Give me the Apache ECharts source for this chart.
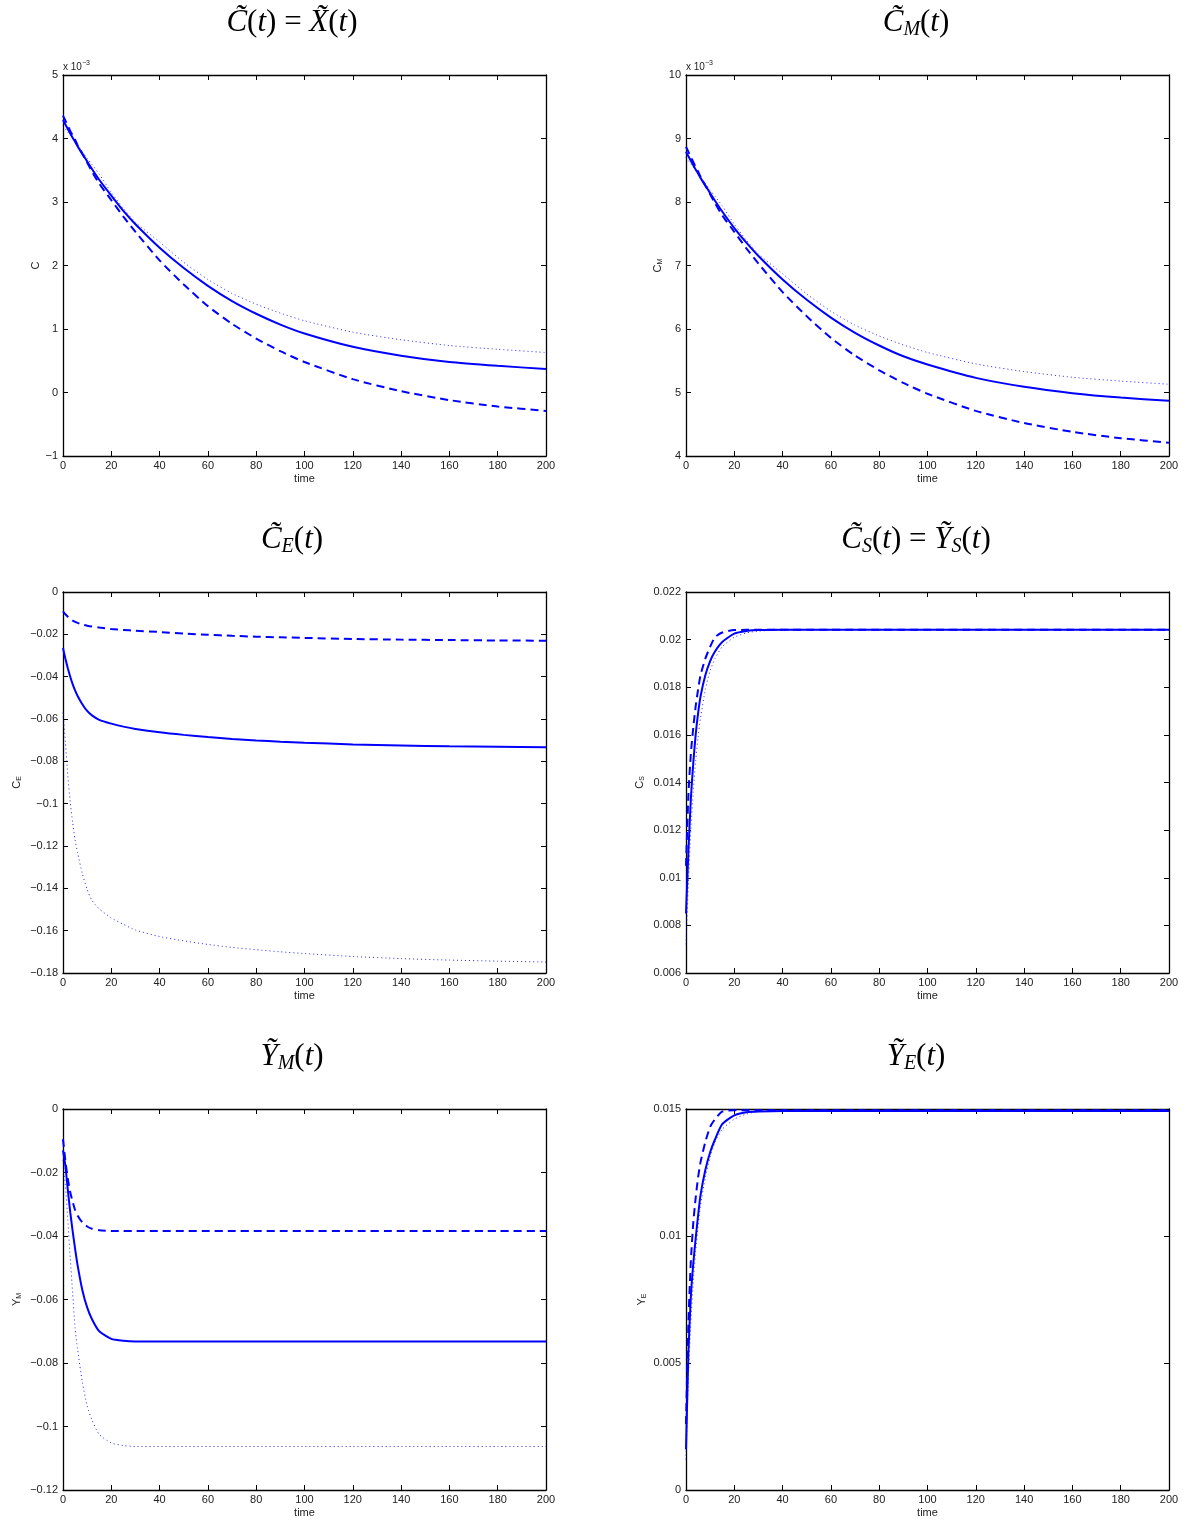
<!DOCTYPE html>
<html><head><meta charset="utf-8">
<script src="https://cdn.jsdelivr.net/npm/echarts@6/dist/echarts.min.js"></script>
<style>html,body{margin:0;padding:0;background:#fff}#c{width:1192px;height:1522px}</style>
</head><body><div id="c"></div>
<script>
// time samples
const T = [0,1,2,3,4,5,6,8,10,12,15,20,25,30,40,50,60,70,80,90,100,120,140,160,180,200];
const xTicks = [0,20,40,60,80,100,120,140,160,180,200];

// Panel 1: C (x 10^-3)
const c_solid = [4.29,4.22,4.15,4.08,4.01,3.95,3.88,3.76,3.64,3.52,3.35,3.10,2.86,2.65,2.28,1.96,1.68,1.44,1.24,1.07,0.93,0.72,0.58,0.48,0.42,0.37];
const c_dash  = [4.36,4.28,4.20,4.12,4.05,3.98,3.90,3.76,3.62,3.48,3.29,3.03,2.77,2.53,2.08,1.70,1.36,1.08,0.85,0.65,0.48,0.21,0.02,-0.12,-0.22,-0.29];
const c_dot   = [4.20,4.15,4.10,4.05,4.00,3.95,3.89,3.79,3.69,3.59,3.44,3.15,2.90,2.68,2.37,2.05,1.78,1.56,1.39,1.25,1.13,0.95,0.83,0.74,0.68,0.63];

// Panel 2: C_M (x 10^-3)
const cm_solid = [8.79,8.72,8.65,8.58,8.51,8.45,8.38,8.26,8.14,8.02,7.85,7.59,7.36,7.15,6.78,6.46,6.18,5.94,5.74,5.57,5.44,5.23,5.09,4.99,4.92,4.87];
const cm_dash  = [8.87,8.79,8.71,8.63,8.55,8.48,8.40,8.26,8.12,7.98,7.79,7.53,7.27,7.03,6.58,6.20,5.86,5.58,5.35,5.15,4.98,4.71,4.52,4.38,4.28,4.21];
const cm_dot   = [8.70,8.65,8.60,8.55,8.50,8.45,8.39,8.29,8.19,8.09,7.94,7.65,7.40,7.18,6.87,6.55,6.28,6.06,5.89,5.75,5.63,5.45,5.33,5.24,5.18,5.13];

// Panel 3: C_E
const ce_solid = [-0.0265,-0.0315,-0.036,-0.040,-0.0435,-0.0465,-0.049,-0.053,-0.0562,-0.0583,-0.0604,-0.0622,-0.0636,-0.0647,-0.0663,-0.0675,-0.0685,-0.0694,-0.0701,-0.0707,-0.0712,-0.0720,-0.0725,-0.0729,-0.0731,-0.0733];
const ce_dash  = [-0.0091,-0.0105,-0.0117,-0.0127,-0.0135,-0.0141,-0.0146,-0.0154,-0.0159,-0.0163,-0.0168,-0.0175,-0.0179,-0.0183,-0.0189,-0.0196,-0.0202,-0.0207,-0.0211,-0.0214,-0.0217,-0.0222,-0.0225,-0.0227,-0.0229,-0.0230];
const ce_dot   = [-0.057,-0.071,-0.087,-0.099,-0.109,-0.117,-0.123,-0.133,-0.1405,-0.1457,-0.1497,-0.154,-0.157,-0.1597,-0.1628,-0.1648,-0.1665,-0.1679,-0.169,-0.170,-0.1708,-0.1722,-0.1732,-0.1739,-0.1744,-0.1748];

// Panel 4: C_S
const cs_solid = [0.0085,0.0111,0.0133,0.0148,0.0160,0.0169,0.0176,0.0185,0.0191,0.0195,0.0199,0.02025,0.02036,0.0204,0.02041,0.02041,0.02041,0.02041,0.02041,0.02041,0.02041,0.02041,0.02041,0.02041,0.02041,0.02041];
const cs_dash  = [0.0105,0.0135,0.0152,0.0163,0.0172,0.0179,0.0185,0.0192,0.0197,0.0201,0.0203,0.0204,0.02041,0.02041,0.02041,0.02041,0.02041,0.02041,0.02041,0.02041,0.02041,0.02041,0.02041,0.02041,0.02041,0.02041];
const cs_dot   = [0.0072,0.0098,0.0120,0.0136,0.0149,0.0159,0.0167,0.0179,0.0187,0.0192,0.0197,0.0201,0.02028,0.02036,0.0204,0.02041,0.02041,0.02041,0.02041,0.02041,0.02041,0.02041,0.02041,0.02041,0.02041,0.02041];

// Panel 5: Y_M
const ym_solid = [-0.013,-0.018,-0.0255,-0.0325,-0.0385,-0.0440,-0.0490,-0.0570,-0.0625,-0.0662,-0.0700,-0.0724,-0.0730,-0.0732,-0.0732,-0.0732,-0.0732,-0.0732,-0.0732,-0.0732,-0.0732,-0.0732,-0.0732,-0.0732,-0.0732,-0.0732];
const ym_dash  = [-0.0095,-0.0165,-0.022,-0.0262,-0.0292,-0.0318,-0.0335,-0.0357,-0.0370,-0.0377,-0.0382,-0.0384,-0.0384,-0.0384,-0.0384,-0.0384,-0.0384,-0.0384,-0.0384,-0.0384,-0.0384,-0.0384,-0.0384,-0.0384,-0.0384,-0.0384];
const ym_dot   = [-0.016,-0.024,-0.035,-0.047,-0.058,-0.069,-0.0755,-0.086,-0.0935,-0.098,-0.1025,-0.1052,-0.106,-0.1063,-0.1063,-0.1063,-0.1063,-0.1063,-0.1063,-0.1063,-0.1063,-0.1063,-0.1063,-0.1063,-0.1063,-0.1063];

// Panel 6: Y_E
const ye_solid = [0.0016,0.0054,0.0076,0.0089,0.0099,0.0108,0.0116,0.0126,0.0133,0.0138,0.0144,0.01475,0.01487,0.0149,0.01492,0.01492,0.01492,0.01492,0.01492,0.01492,0.01492,0.01492,0.01492,0.01492,0.01492,0.01492];
const ye_dash  = [0.0026,0.0066,0.0090,0.0105,0.0115,0.0123,0.0129,0.0137,0.0143,0.0146,0.0149,0.01495,0.01495,0.01495,0.01495,0.01495,0.01495,0.01495,0.01495,0.01495,0.01495,0.01495,0.01495,0.01495,0.01495,0.01495];
const ye_dot   = [0.0012,0.0045,0.0066,0.0082,0.0094,0.0104,0.0112,0.0123,0.0131,0.0137,0.0142,0.0146,0.0148,0.0149,0.01492,0.01492,0.01492,0.01492,0.01492,0.01492,0.01492,0.01492,0.01492,0.01492,0.01492,0.01492];

const titles = [
  '{i|C\u0303}{u|(}{i|t}{u|) = }{i|X\u0303}{u|(}{i|t}{u|)}',
  '{i|C\u0303}{s|M}{u|(}{i|t}{u|)}',
  '{i|C\u0303}{s|E}{u|(}{i|t}{u|)}',
  '{i|C\u0303}{s|S}{u|(}{i|t}{u|) = }{i|Y\u0303}{s|S}{u|(}{i|t}{u|)}',
  '{i|Y\u0303}{s|M}{u|(}{i|t}{u|)}',
  '{i|Y\u0303}{s|E}{u|(}{i|t}{u|)}'
];
const yNames = ['{a|C}','{a|C}{s|M}','{a|C}{s|E}','{a|C}{s|S}','{a|Y}{s|M}','{a|Y}{s|E}'];
const yRanges = [[-1,5,1],[4,10,1],[-0.18,0,0.02],[0.006,0.022,0.002],[-0.12,0,0.02],[0,0.015,0.005]];
const seriesSets = [
  [c_solid,c_dash,c_dot],[cm_solid,cm_dash,cm_dot],[ce_solid,ce_dash,ce_dot],
  [cs_solid,cs_dash,cs_dot],[ym_solid,ym_dash,ym_dot],[ye_solid,ye_dash,ye_dot]
];

// layout
const lefts = [63,686,63,686,63,686];
const tops = [75,75,592,592,1109,1109];
const W = 483, H = 381;
const nameGaps = [22,22,40,40,40,38];
const titleX = [292,916,292,916,292,916];

const font = 'Liberation Sans, Arial, Helvetica, sans-serif';
const serif = 'Liberation Serif, DejaVu Serif, serif';
const fmt = v => String(+(+v).toFixed(6)).replace('-', '\u2212');

const grid = [], xAxis = [], yAxis = [], series = [], graphic = [];
for (let p = 0; p < 6; p++) {
  grid.push({left: lefts[p], top: tops[p], width: W, height: H});
  const axLine = {show: true, onZero: false, lineStyle: {color: '#000', width: 1.3}};
  const tick = {show: true, inside: true, length: 5, lineStyle: {color: '#000', width: 1}};
  xAxis.push({
    type: 'value', gridIndex: p, min: 0, max: 200, interval: 20, position: 'bottom',
    axisLine: axLine, axisTick: tick, splitLine: {show: false},
    axisLabel: {fontFamily: font, fontSize: 11, color: '#222', margin: 4, formatter: fmt},
    name: 'time', nameLocation: 'middle', nameGap: 17,
    nameTextStyle: {fontFamily: font, fontSize: 11, color: '#222'}
  });
  xAxis.push({
    type: 'value', gridIndex: p, min: 0, max: 200, interval: 20, position: 'top',
    axisLine: axLine, axisTick: tick, axisLabel: {show: false}, splitLine: {show: false}
  });
  const [mn, mx, iv] = yRanges[p];
  yAxis.push({
    type: 'value', gridIndex: p, min: mn, max: mx, interval: iv, position: 'left',
    axisLine: axLine, axisTick: tick, splitLine: {show: false},
    axisLabel: {fontFamily: font, fontSize: 11, color: '#222', margin: 5, formatter: fmt},
    name: yNames[p], nameLocation: 'middle', nameGap: nameGaps[p],
    nameTextStyle: {rich: {
      a: {fontFamily: font, fontSize: 11, color: '#222'},
      s: {fontFamily: font, fontSize: 7, color: '#222', padding: [6, 0, 0, 0]}
    }}
  });
  yAxis.push({
    type: 'value', gridIndex: p, min: mn, max: mx, interval: iv, position: 'right',
    axisLine: axLine, axisTick: tick, axisLabel: {show: false}, splitLine: {show: false}
  });
  const styles = [
    {width: 2, type: 'solid', opacity: 1},
    {width: 2, type: [8, 5], opacity: 1},
    {width: 1, type: [1, 3], opacity: 0.85}
  ];
  seriesSets[p].forEach((arr, k) => {
    series.push({
      type: 'line', xAxisIndex: 2 * p, yAxisIndex: 2 * p,
      data: T.map((t, i) => [t, arr[i]]),
      showSymbol: false, smooth: 0.2,
      lineStyle: Object.assign({color: '#0000ff'}, styles[k]),
      z: 3 - k
    });
  });
  graphic.push({
    type: 'text', x: titleX[p], y: tops[p] - 52,
    style: {
      text: titles[p], align: 'center', verticalAlign: 'middle', fill: '#000',
      rich: {
        i: {fontFamily: serif, fontStyle: 'italic', fontSize: 31, lineHeight: 36},
        u: {fontFamily: serif, fontSize: 31, lineHeight: 36},
        s: {fontFamily: serif, fontStyle: 'italic', fontSize: 20, lineHeight: 36, padding: [14, 0, 0, 0]}
      }
    }
  });
}
// x 10^-3 multipliers
[0, 1].forEach(p => {
  graphic.push({
    type: 'text', left: lefts[p], top: tops[p] - 15,
    style: {
      text: '{a|x 10}{s|\u22123}', fill: '#222',
      rich: {
        a: {fontFamily: font, fontSize: 10, lineHeight: 14},
        s: {fontFamily: font, fontSize: 7, lineHeight: 14, padding: [0, 0, 8, 0]}
      }
    }
  });
});

const chart = echarts.init(document.getElementById('c'), null, {renderer: 'canvas'});
chart.setOption({animation: false, backgroundColor: '#fff', grid, xAxis, yAxis, series, graphic});
</script></body></html>
